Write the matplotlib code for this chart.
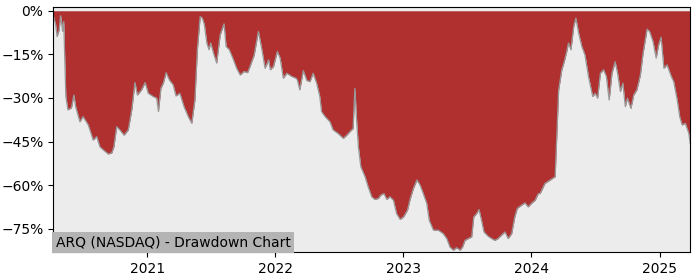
import matplotlib
matplotlib.use("Agg")
import matplotlib.pyplot as plt
import matplotlib.dates as mdates
import matplotlib.ticker as mticker
import pandas as pd

# drawdown of ARQ (percent below the running high)
dates = [
    "2020-04-08", "2020-04-15", "2020-04-19", "2020-04-25", "2020-04-29", "2020-05-02",
    "2020-05-05", "2020-05-08", "2020-05-11", "2020-05-14", "2020-05-20", "2020-05-30",
    "2020-06-06", "2020-06-11", "2020-06-23", "2020-07-02", "2020-07-17", "2020-07-31",
    "2020-08-10", "2020-08-19", "2020-08-29", "2020-09-12", "2020-09-22", "2020-09-28",
    "2020-10-06", "2020-10-15", "2020-10-27", "2020-11-08", "2020-11-18", "2020-11-27",
    "2020-12-04", "2020-12-16", "2020-12-26", "2021-01-04", "2021-01-18", "2021-01-28",
    "2021-02-02", "2021-02-09", "2021-02-16", "2021-02-24", "2021-03-05", "2021-03-16",
    "2021-03-24", "2021-04-04", "2021-04-16", "2021-04-28", "2021-05-08", "2021-05-17",
    "2021-05-24", "2021-06-01", "2021-06-07", "2021-06-13", "2021-06-20", "2021-06-26",
    "2021-07-01", "2021-07-09", "2021-07-18", "2021-07-28", "2021-08-08", "2021-08-14",
    "2021-08-23", "2021-09-02", "2021-09-13", "2021-09-23", "2021-10-04", "2021-10-14",
    "2021-10-21", "2021-11-02", "2021-11-14", "2021-11-24", "2021-12-03", "2021-12-13",
    "2021-12-18", "2021-12-27", "2022-01-07", "2022-01-15", "2022-01-24", "2022-02-03",
    "2022-02-17", "2022-03-01", "2022-03-05", "2022-03-12", "2022-03-22", "2022-04-01",
    "2022-04-10", "2022-04-19", "2022-04-29", "2022-05-08", "2022-05-13", "2022-05-23",
    "2022-06-06", "2022-06-15", "2022-06-29", "2022-07-14", "2022-07-24", "2022-08-02",
    "2022-08-11", "2022-08-16", "2022-08-21", "2022-08-26", "2022-09-02", "2022-09-14",
    "2022-09-23", "2022-10-03", "2022-10-12", "2022-10-22", "2022-10-29", "2022-11-07",
    "2022-11-15", "2022-11-24", "2022-12-04", "2022-12-13", "2022-12-23", "2023-01-02",
    "2023-01-13", "2023-01-21", "2023-01-30", "2023-02-09", "2023-02-18", "2023-02-27",
    "2023-03-09", "2023-03-16", "2023-03-28", "2023-04-11", "2023-04-25", "2023-05-05",
    "2023-05-14", "2023-05-24", "2023-06-02", "2023-06-12", "2023-06-19", "2023-06-26",
    "2023-07-05", "2023-07-15", "2023-07-21", "2023-07-29", "2023-08-05", "2023-08-12",
    "2023-08-19", "2023-08-31", "2023-09-10", "2023-09-19", "2023-09-28", "2023-10-08",
    "2023-10-18", "2023-10-27", "2023-11-06", "2023-11-15", "2023-11-22", "2023-12-04",
    "2023-12-14", "2023-12-23", "2024-01-03", "2024-01-12", "2024-01-21", "2024-01-26",
    "2024-02-09", "2024-02-23", "2024-03-09", "2024-03-14", "2024-03-19", "2024-03-28",
    "2024-04-04", "2024-04-11", "2024-04-16", "2024-04-23", "2024-05-01", "2024-05-07",
    "2024-05-15", "2024-05-24", "2024-06-02", "2024-06-12", "2024-06-24", "2024-07-01",
    "2024-07-08", "2024-07-16", "2024-07-25", "2024-08-02", "2024-08-10", "2024-08-18",
    "2024-08-27", "2024-09-03", "2024-09-11", "2024-09-18", "2024-09-25", "2024-10-01",
    "2024-10-11", "2024-10-19", "2024-10-28", "2024-11-07", "2024-11-14", "2024-11-26",
    "2024-12-03", "2024-12-13", "2024-12-22", "2024-12-29", "2025-01-05", "2025-01-13",
    "2025-01-22", "2025-02-03", "2025-02-10", "2025-02-20", "2025-02-27", "2025-03-06",
    "2025-03-15", "2025-03-25", "2025-03-29",
]
drawdown = [
    -1.5, -4.8, -8.9, -6.6, -1.7, -4.1,
    -7.1, -3.7, -16.9, -29.5, -34.1, -33.4,
    -29.0, -33.0, -38.2, -36.4, -39.3, -44.5,
    -43.3, -46.8, -47.9, -49.3, -48.9, -46.8,
    -39.9, -41.0, -42.8, -41.0, -34.1, -24.7,
    -29.0, -27.2, -24.7, -28.4, -29.5, -30.1,
    -34.7, -26.7, -24.9, -21.3, -23.8, -25.5,
    -29.3, -28.4, -33.0, -36.4, -38.7, -30.7,
    -13.4, -2.0, -2.5, -4.8, -11.1, -13.4,
    -11.1, -14.6, -18.0, -8.3, -4.5, -12.3,
    -13.4, -16.3, -19.8, -22.1, -20.9, -21.3,
    -19.2, -15.2, -7.1, -13.4, -19.8, -16.9,
    -20.3, -19.2, -14.0, -16.3, -23.2, -21.5,
    -22.6, -23.2, -23.8, -27.2, -20.6, -24.0,
    -24.4, -21.5, -24.9, -29.5, -34.7, -36.4,
    -38.2, -41.0, -42.2, -43.9, -42.8, -41.6,
    -40.5, -26.7, -37.6, -46.8, -53.7, -57.1,
    -60.6, -64.0, -64.9, -64.6, -63.4, -62.9,
    -64.9, -64.0, -65.2, -69.8, -71.8, -70.9,
    -68.6, -64.6, -61.1, -58.2, -60.0, -62.9,
    -66.3, -72.1, -75.5, -75.5, -76.7, -78.4,
    -81.3, -82.4, -81.5, -82.4, -81.3, -79.0,
    -78.4, -77.8, -70.9, -69.8, -68.4, -72.1,
    -76.1, -77.6, -78.4, -79.0, -78.4, -77.2,
    -76.1, -78.4, -76.7, -70.9, -68.0, -66.9,
    -66.1, -67.5, -66.1, -65.2, -62.9, -62.9,
    -59.4, -58.3, -57.1, -42.2, -27.2, -20.3,
    -17.5, -14.0, -11.1, -13.4, -5.4, -2.5,
    -7.7, -12.3, -15.2, -22.6, -29.5, -28.4,
    -30.1, -21.5, -20.3, -22.6, -30.7, -21.5,
    -17.5, -21.5, -27.8, -24.9, -33.0, -30.1,
    -33.6, -29.0, -27.2, -22.1, -15.2, -6.3,
    -7.1, -10.6, -16.3, -11.7, -9.1, -19.8,
    -18.6, -22.6, -24.4, -30.7, -36.4, -39.3,
    -38.7, -42.2, -45.6,
]
label = "ARQ (NASDAQ) - Drawdown Chart"

x = pd.to_datetime(dates)

fig = plt.figure(figsize=(7, 2.8), dpi=100)
ax = fig.add_axes([0.076, 0.099, 0.910, 0.875])
ax.set_facecolor("#ececec")

ax.fill_between(x, 0, drawdown, color="#b03030", linewidth=0)
ax.plot(x, drawdown, color="#999999", linewidth=0.9)

ax.set_xlim(x[0], x[-1])
ax.set_ylim(-83.1, 1.2)
ax.yaxis.set_major_locator(mticker.MultipleLocator(15))
ax.yaxis.set_major_formatter(mticker.PercentFormatter(decimals=0))
ax.xaxis.set_major_locator(mdates.YearLocator())
ax.xaxis.set_major_formatter(mdates.DateFormatter("%Y"))

ax.text(0.004, 0.012, label, transform=ax.transAxes, fontsize=10,
        ha="left", va="bottom",
        bbox=dict(boxstyle="square,pad=0.25", facecolor="#b4b4b4", edgecolor="none"))

fig.savefig("out.png")
